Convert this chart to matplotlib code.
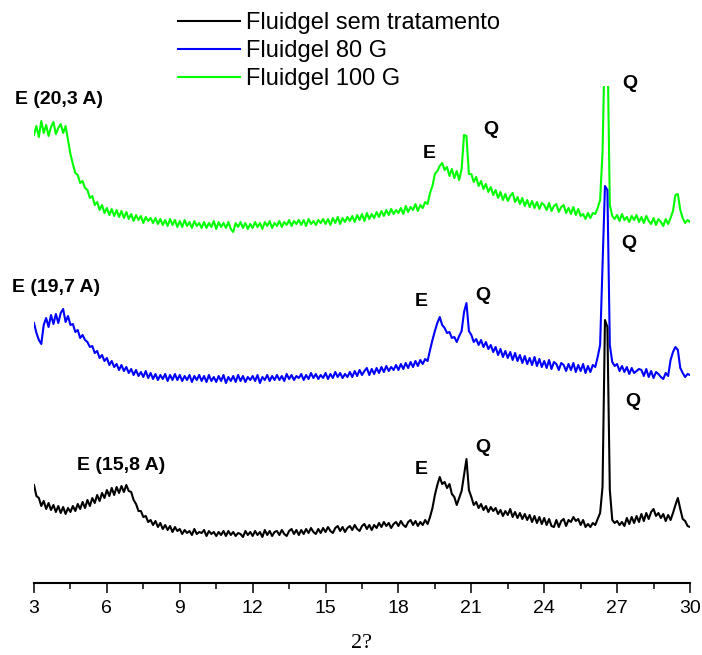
import numpy as np
import matplotlib.pyplot as plt
from matplotlib.ticker import MultipleLocator

# 2-theta grid of the scans (degrees), one reading every 0.1
two_theta = np.round(np.arange(3.0, 30.0001, 0.1), 1)

# intensities (a.u.) above each trace's own floor
sem_tratamento = [
    50, 39, 37, 29, 34, 26, 32, 25, 30, 23,
    29, 22, 28, 21, 27, 23, 29, 24, 31, 26,
    33, 27, 35, 29, 37, 32, 40, 34, 42, 37,
    45, 39, 47, 40, 48, 42, 49, 43, 50, 44,
    43, 35, 31, 24, 24, 18, 19, 13, 15, 10,
    14, 8, 12, 6, 10, 5, 9, 3, 8, 4,
    6, 1, 5, 2, 4, 0, 6, 1, 3, 2,
    5, -1, 4, 1, 3, -1, 3, 0, 4, -1,
    4, 0, 3, -1, 2, 1, -2, 4, 0, 3,
    -1, 4, 0, 3, -2, 5, 0, 4, -1, 3,
    4, 0, 5, 1, -1, 4, 6, 1, 5, 0,
    5, 1, 6, 2, 7, 3, 1, 6, 2, 7,
    3, 8, 4, 2, 7, 9, 4, 8, 3, 7,
    9, 5, 10, 6, 4, 9, 11, 6, 10, 5,
    10, 7, 12, 8, 13, 9, 12, 7, 11, 13,
    9, 14, 10, 8, 13, 15, 10, 14, 9, 13,
    10, 15, 11, 18, 27, 40, 50, 58, 51, 53,
    47, 51, 41, 38, 30, 37, 44, 60, 76, 45,
    38, 30, 33, 27, 31, 25, 29, 23, 28, 24,
    27, 21, 25, 19, 24, 20, 26, 18, 23, 17,
    22, 16, 21, 15, 20, 13, 19, 12, 18, 11,
    17, 10, 16, 9, 8, 15, 8, 14, 16, 9,
    15, 13, 18, 14, 16, 10, 15, 8, 11, 8,
    12, 10, 16, 22, 48, 215, 208, 45, 15, 12,
    14, 10, 13, 9, 17, 11, 18, 12, 19, 13,
    21, 14, 22, 16, 23, 26, 19, 22, 17, 21,
    14, 20, 15, 22, 30, 37, 26, 16, 14, 9,
    8,
]

fluidgel_80g = [
    57, 47, 40, 36, 55, 62, 53, 65, 56, 66,
    57, 67, 71, 58, 64, 55, 56, 48, 50, 42,
    45, 40, 38, 33, 34, 27, 29, 22, 25, 19,
    22, 15, 19, 13, 16, 10, 15, 9, 13, 7,
    11, 5, 10, 4, 8, 3, 9, 2, 7, 1,
    6, 0, 5, 1, 6, -1, 5, 0, 6, 0,
    5, -1, 4, 0, 5, -2, 4, 0, 5, -1,
    4, -2, 5, -1, 3, -2, 4, -1, 5, -3,
    3, -1, 4, -2, 5, -1, 4, -2, 3, 0,
    4, -1, 5, -3, 3, 0, 5, -1, 4, 0,
    5, 0, 4, -1, 6, 1, 5, 0, 4, 2,
    6, 0, 5, 1, 7, 2, 6, 1, 5, 2,
    7, 1, 6, 2, 8, 3, 7, 2, 6, 3,
    8, 3, 9, 4, 10, 5, 9, 12, 5, 11,
    6, 12, 7, 13, 8, 14, 9, 13, 10, 15,
    10, 16, 11, 17, 12, 18, 13, 19, 14, 20,
    16, 21, 19, 30, 40, 49, 57, 63, 55, 52,
    47, 48, 42, 43, 38, 44, 49, 68, 77, 49,
    45, 38, 41, 35, 40, 33, 38, 31, 35, 28,
    33, 25, 31, 23, 29, 22, 28, 20, 27, 19,
    25, 17, 24, 16, 22, 15, 23, 14, 21, 13,
    19, 12, 20, 11, 18, 16, 10, 17, 15, 9,
    16, 10, 17, 8, 15, 9, 16, 7, 14, 8,
    15, 13, 23, 35, 115, 194, 190, 35, 18, 14,
    16, 9, 14, 8, 13, 6, 12, 7, 9, 11,
    10, 4, 11, 3, 9, 2, 8, 6, 3, 1,
    7, 4, 20, 28, 33, 30, 12, 7, 3, 6,
    5,
]

fluidgel_100g = [
    91, 100, 89, 105, 93, 101, 90, 99, 104, 92,
    98, 102, 93, 100, 86, 72, 62, 53, 51, 43,
    45, 38, 36, 28, 30, 21, 24, 16, 21, 13,
    18, 11, 17, 10, 16, 9, 15, 8, 14, 7,
    12, 5, 11, 6, 10, 3, 9, 5, 8, 3,
    8, 2, 7, 1, 6, 0, 7, 1, 6, -1,
    5, -1, 6, 0, 4, -2, 5, 0, 3, -2,
    4, -2, 3, -1, 5, -3, 4, -1, 3, -2,
    4, -3, -6, 3, -1, 4, -2, 3, -3, 2,
    -2, 4, -1, 3, -3, 4, 0, 5, -2, 3,
    0, 5, -1, 4, 1, 6, 0, 5, 2, 6,
    1, 6, 0, 7, 2, 5, 1, 6, 3, 7,
    2, 7, 1, 8, 3, 9, 2, 8, 4, 9,
    5, 10, 4, 11, 6, 12, 5, 13, 7, 12,
    8, 14, 9, 15, 10, 16, 11, 17, 12, 16,
    13, 18, 12, 20, 14, 19, 16, 22, 15, 21,
    18, 24, 22, 33, 40, 52, 55, 60, 63, 56,
    59, 50, 57, 48, 55, 46, 57, 91, 90, 52,
    52, 44, 49, 40, 45, 37, 42, 34, 39, 31,
    36, 28, 34, 26, 32, 25, 30, 33, 24, 29,
    22, 28, 20, 26, 19, 25, 18, 24, 17, 23,
    21, 16, 23, 15, 20, 22, 14, 19, 21, 13,
    18, 12, 19, 11, 17, 10, 12, 7, 13, 8,
    13, 12, 18, 26, 74, 190, 190, 21, 10, 7,
    11, 5, 12, 6, 9, 4, 10, 6, 11, 4,
    9, 3, 10, 5, 2, 8, 1, 7, 4, 0,
    7, 2, 8, 15, 31, 32, 16, 8, 3, 6,
    4,
]

series_labels = ["Fluidgel sem tratamento", "Fluidgel 80 G", "Fluidgel 100 G"]
series_values = [sem_tratamento, fluidgel_80g, fluidgel_100g]
series_colors = ["#000000", "#0000ff", "#00ff00"]
series_offsets = [48, 203, 357]  # vertical stacking

# peak labels: (text, 2-theta, height)
peak_labels = [
    ("E (20,3 A)", 2.22, 483), ("E", 19.0, 429), ("Q", 21.48, 453), ("Q", 27.2, 499),
    ("E (19,7 A)", 2.09, 296), ("E", 18.68, 281), ("Q", 21.15, 287), ("Q", 27.16, 339),
    ("E (15,8 A)", 4.77, 117), ("E", 18.68, 113), ("Q", 21.15, 136), ("Q", 27.32, 181),
]

plt.rcParams['font.family'] = ['Liberation Sans', 'DejaVu Sans']

fig = plt.figure(figsize=(7.02, 6.55), dpi=100)
ax = fig.add_axes([34 / 702, 72 / 655, 656 / 702, 497 / 655])

# draw green first so the black and blue peaks sit on top, like the original
lines = {}
for lab, vals, col, off in reversed(list(zip(series_labels, series_values, series_colors, series_offsets))):
    lines[lab], = ax.plot(two_theta, np.array(vals) + off, color=col, lw=1.5, label=lab)

for txt, xx, yy in peak_labels:
    ax.text(xx, yy, txt, ha="left", va="center", fontsize=14, fontweight="bold", clip_on=False)

ax.set_xlim(3, 30)
ax.set_ylim(0, 497)
for side in ["left", "right", "top"]:
    ax.spines[side].set_visible(False)
ax.spines["bottom"].set_linewidth(1.5)
ax.set_yticks([])
ax.xaxis.set_major_locator(MultipleLocator(3))
ax.xaxis.set_minor_locator(MultipleLocator(1.5))
ax.tick_params(axis="x", which="major", direction="out", length=7, width=1.1, labelsize=14, pad=5)
ax.tick_params(axis="x", which="minor", direction="out", length=4.5, width=1.1)

fig.text(362 / 702, 1 - 643 / 655, "2?", ha="center", va="center", fontsize=16, family=["Liberation Serif", "DejaVu Serif"])

leg = fig.legend([lines[l] for l in series_labels], series_labels, loc="upper left",
                 bbox_to_anchor=(178 / 702, 1 - 12 / 655), frameon=False, fontsize=17,
                 handlelength=2.63, handletextpad=0.25, labelspacing=0.25, borderpad=0, borderaxespad=0)
for h in leg.get_lines():
    h.set_linewidth(1.5)

fig.savefig("out.png", dpi=100)
